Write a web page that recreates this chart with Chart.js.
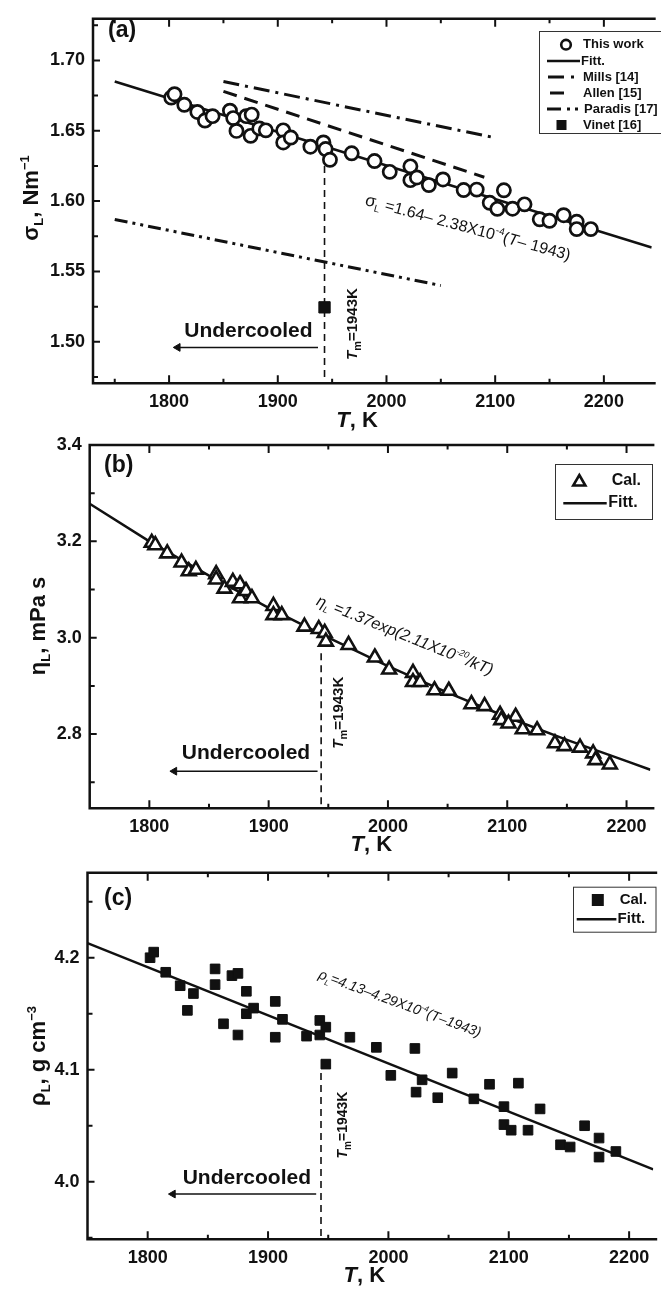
<!DOCTYPE html>
<html>
<head>
<meta charset="utf-8">
<script src="https://cdn.jsdelivr.net/npm/chart.js@4.4.0/dist/chart.umd.min.js"></script>
<style>
html, body { margin: 0; padding: 0; background: #fff; overflow: hidden; }
#wrap { position: relative; width: 661px; height: 1292px; }
canvas { position: absolute; left: 0; }
</style>
</head>
<body>
<div id="wrap">
<canvas id="chartA"></canvas>
<canvas id="chartB"></canvas>
<canvas id="chartC"></canvas>
</div>
<script>
'use strict';

const FONT = "'Liberation Sans', Arial, Helvetica, sans-serif";
const INK = '#111';
const tMelt = 1943;

// (a) surface tension
const tempA = [1802, 1805, 1814, 1826, 1833, 1840, 1856, 1859, 1862, 1871, 1876, 1875, 1883, 1889,
    1905, 1905, 1912, 1930, 1942, 1944, 1948, 1968, 1989, 2003, 2022, 2022, 2028, 2039, 2052,
    2071, 2083, 2095, 2102, 2108, 2116, 2127, 2141, 2150, 2163, 2175, 2175, 2188];
const sigmaA = [1.6736, 1.6760, 1.6685, 1.6634, 1.6573, 1.6604, 1.6643, 1.6590, 1.6499, 1.6604, 1.6615, 1.6464, 1.6517, 1.6503,
    1.6503, 1.6417, 1.6452, 1.6387, 1.6417, 1.6370, 1.6294, 1.6340, 1.6285, 1.6208, 1.6247, 1.6149, 1.6168, 1.6114, 1.6154,
    1.6079, 1.6082, 1.5988, 1.5945, 1.6077, 1.5946, 1.5977, 1.5871, 1.5860, 1.5900, 1.5853, 1.5801, 1.5801];
const fitTempA = [1750, 2244];
const fitSigmaA = [1.685, 1.567];
const millsTemp = [1850, 2100];
const millsSigma = [1.685, 1.645];
const allenTemp = [1850, 2090];
const allenSigma = [1.678, 1.617];
const paradisTemp = [1750, 2050];
const paradisSigma = [1.587, 1.540];
const vinetTemp = [1943];
const vinetSigma = [1.5245];
const tmSigma = [1.625, 1.4705];
const arrowTempA = [1937, 1808];
const arrowSigma = [1.496, 1.496];
const xTicksA = [1800, 1900, 2000, 2100, 2200];
const xMinorA = [1750, 1850, 1950, 2050, 2150];
const yTicksA = [1.50, 1.55, 1.60, 1.65, 1.70];
const yMinorA = [1.475, 1.525, 1.575, 1.625, 1.675, 1.725];

// (b) viscosity
const tempB = [1802, 1805, 1815, 1827, 1833, 1839, 1856, 1856, 1863, 1870, 1876, 1876, 1881, 1886,
    1904, 1904, 1911, 1930, 1942, 1947, 1948, 1967, 1989, 2001, 2021, 2021, 2027, 2039, 2051,
    2070, 2081, 2094, 2095, 2107, 2101, 2113, 2125, 2140, 2148, 2161, 2172, 2174, 2186];
const etaB = [3.197, 3.192, 3.175, 3.156, 3.138, 3.141, 3.132, 3.121, 3.102, 3.116, 3.111, 3.082, 3.097, 3.082,
    3.066, 3.047, 3.047, 3.023, 3.018, 3.010, 2.992, 2.985, 2.959, 2.934, 2.927, 2.908, 2.908, 2.891, 2.890,
    2.862, 2.858, 2.840, 2.829, 2.836, 2.822, 2.810, 2.808, 2.781, 2.775, 2.772, 2.760, 2.746, 2.737];
const fitTempB = [1750, 1800, 1850, 1900, 1950, 2000, 2050, 2100, 2150, 2200, 2220];
const fitEtaB = [3.278, 3.200, 3.129, 3.062, 3.000, 2.941, 2.886, 2.835, 2.788, 2.744, 2.726];
const tmEta = [2.968, 2.646];
const arrowTempB = [1941, 1821];
const arrowEta = [2.723, 2.723];
const xTicksBC = [1800, 1900, 2000, 2100, 2200];
const xMinorBC = [1850, 1950, 2050, 2150];
const yTicksB = [2.8, 3.0, 3.2, 3.4];
const yMinorB = [2.7, 2.9, 3.1, 3.3];

// (c) density
const tempC = [1802, 1805, 1815, 1827, 1833, 1838, 1856, 1856, 1863, 1870, 1875, 1875, 1882, 1882, 1888,
    1906, 1906, 1912, 1932, 1943, 1943, 1948, 1968, 1990, 2022, 1948, 2002, 2023, 2028, 2041, 2053,
    2071, 2084, 2096, 2096, 2102, 2108, 2116, 2126, 2143, 2151, 2163, 2175, 2175, 2189];
const rhoC = [4.200, 4.205, 4.187, 4.175, 4.153, 4.168, 4.190, 4.176, 4.141, 4.184, 4.186, 4.131, 4.170, 4.150, 4.155,
    4.161, 4.129, 4.145, 4.130, 4.144, 4.131, 4.138, 4.129, 4.120, 4.119, 4.105, 4.095, 4.080, 4.091, 4.075, 4.097,
    4.074, 4.087, 4.067, 4.051, 4.046, 4.088, 4.046, 4.065, 4.033, 4.031, 4.050, 4.039, 4.022, 4.027];
const fitTempC = [1750, 2220];
const fitRhoC = [4.213, 4.011];
const tmRho = [4.097, 3.9486];
const arrowTempC = [1940, 1821];
const arrowRho = [3.989, 3.989];
const yTicksC = [4.0, 4.1, 4.2];
const yMinorC = [3.95, 4.05, 4.15, 4.25];

function pts(xs, ys) {
    return xs.map((x, i) => ({x: x, y: ys[i]}));
}

function fontOf(q) {
    return (q.it ? 'italic ' : '') + (q.b ? 'bold ' : '') + q.s + 'px ' + FONT;
}

function drawRich(ctx, parts, x, y, align) {
    let w = 0;
    parts.forEach(q => { ctx.font = fontOf(q); q.w = ctx.measureText(q.t).width; w += q.w; });
    let cx = align === 'center' ? x - w / 2 : x;
    ctx.textAlign = 'left';
    ctx.textBaseline = 'alphabetic';
    parts.forEach(q => { ctx.font = fontOf(q); ctx.fillText(q.t, cx, y + (q.dy || 0)); cx += q.w; });
}

function rotated(ctx, x, y, deg, fn) {
    ctx.save();
    ctx.translate(x, y);
    ctx.rotate(deg * Math.PI / 180);
    fn();
    ctx.restore();
}

function lineDs(xs, ys, dash, width) {
    return {data: pts(xs, ys), showLine: true, borderColor: INK, borderWidth: width || 2.5,
        borderDash: dash || [], pointRadius: 0, fill: false};
}

function arrowDs(xs, ys) {
    return {data: pts(xs, ys), showLine: true, borderColor: INK, borderWidth: 1.6,
        pointRadius: [0, 4.5], pointStyle: 'triangle', pointRotation: -90,
        pointBackgroundColor: INK, pointBorderColor: INK, pointBorderWidth: 1};
}

function drawFrame(ctx, chart, p) {
    const a = chart.chartArea, xs = chart.scales.x, ys = chart.scales.y;
    ctx.save();
    ctx.strokeStyle = INK;
    ctx.lineWidth = 2.5;
    ctx.beginPath();
    ctx.moveTo(a.right + 4, a.top);
    ctx.lineTo(a.left, a.top);
    ctx.lineTo(a.left, a.bottom);
    ctx.lineTo(a.right + 4, a.bottom);
    ctx.stroke();
    ctx.lineWidth = 2;
    ctx.beginPath();
    const xt = (vals, len) => vals.forEach(v => {
        const px = xs.getPixelForValue(v);
        ctx.moveTo(px, a.bottom); ctx.lineTo(px, a.bottom - len);
        ctx.moveTo(px, a.top); ctx.lineTo(px, a.top + len);
    });
    const yt = (vals, len) => vals.forEach(v => {
        const py = ys.getPixelForValue(v);
        ctx.moveTo(a.left, py); ctx.lineTo(a.left + len, py);
    });
    xt(p.xMajor, 8); xt(p.xMinor, 4.5);
    yt(p.yMajor, 7); yt(p.yMinor, 5);
    ctx.stroke();
    ctx.restore();
}

function legendBox(ctx, x, y, w, h) {
    ctx.save();
    ctx.strokeStyle = '#333';
    ctx.lineWidth = 1;
    ctx.strokeRect(x + 0.5, y + 0.5, w, h);
    ctx.restore();
}

function hline(ctx, x1, x2, y, lw) {
    ctx.lineWidth = lw;
    ctx.beginPath(); ctx.moveTo(x1, y); ctx.lineTo(x2, y); ctx.stroke();
}

function legendText(ctx, t, x, y, size) {
    ctx.font = 'bold ' + size + 'px ' + FONT;
    ctx.textAlign = 'left';
    ctx.textBaseline = 'middle';
    ctx.fillText(t, x, y);
}

function buildPanel(id, p) {
    const cv = document.getElementById(id);
    cv.width = 661;
    cv.height = p.height;
    cv.style.top = p.top + 'px';
    const tickFont = {family: FONT, size: p.tickSize, weight: 'bold'};
    return new Chart(cv, {
        type: 'scatter',
        data: {datasets: p.datasets},
        options: {
            responsive: false,
            animation: false,
            events: [],
            layout: {padding: {top: p.areaTop - p.top, left: 0, right: 0, bottom: 0}},
            plugins: {legend: {display: false}, tooltip: {enabled: false}},
            scales: {
                x: {
                    type: 'linear', min: p.xMin, max: p.xMax,
                    afterBuildTicks: s => { s.ticks = p.xMajor.map(v => ({value: v})); },
                    afterFit: s => { s.height = p.top + p.height - p.areaBottom; },
                    grid: {display: false, drawTicks: false},
                    border: {display: false},
                    ticks: {font: tickFont, color: INK, padding: 8, maxRotation: 0, autoSkip: false,
                        callback: v => String(v)}
                },
                y: {
                    type: 'linear', min: p.yMin, max: p.yMax,
                    afterBuildTicks: s => { s.ticks = p.yMajor.map(v => ({value: v})); },
                    afterFit: s => { s.width = p.areaLeft; },
                    grid: {display: false, drawTicks: false},
                    border: {display: false},
                    ticks: {font: tickFont, color: INK, padding: 8, autoSkip: false,
                        callback: v => v.toFixed(p.yDec)}
                }
            }
        },
        plugins: [{
            id: 'deco',
            afterDatasetsDraw(chart) {
                const ctx = chart.ctx;
                const X = v => chart.scales.x.getPixelForValue(v);
                const Y = v => chart.scales.y.getPixelForValue(v);
                const pg = v => v - p.top;
                drawFrame(ctx, chart, p);
                ctx.save();
                ctx.fillStyle = INK;
                ctx.strokeStyle = INK;
                // panel letter
                drawRich(ctx, [{t: p.letter, s: 23, b: true}], p.letterX, pg(p.letterBase), 'left');
                // y title
                rotated(ctx, p.yTitleX, pg(p.yTitleY), -90, () => drawRich(ctx, p.yTitle, 0, 8, 'center'));
                // x title
                drawRich(ctx, [{t: 'T', s: 22, b: true, it: true}, {t: ', K', s: 22, b: true}],
                    X(p.xTitleT), pg(p.xTitleBase), 'center');
                // melting point label
                rotated(ctx, X(p.tmAt[0]), Y(p.tmAt[1]), -90, () => drawRich(ctx, [
                    {t: 'T', s: p.tmSize, b: true, it: true}, {t: 'm', s: p.tmSize - 4, b: true, dy: 4},
                    {t: '=1943K', s: p.tmSize, b: true}], 0, p.tmSize * 0.36, 'center'));
                // undercooled
                drawRich(ctx, [{t: 'Undercooled', s: 21, b: true}], X(p.ucAt[0]), Y(p.ucAt[1]) + 7.5, 'center');
                // fit equation
                rotated(ctx, X(p.eqAt[0]), Y(p.eqAt[1]), p.eqAngle, () => drawRich(ctx, p.eq, 0, 5, 'left'));
                // legend
                p.legend(ctx, pg);
                ctx.restore();
            }
        }]
    });
}

// ---------- panel (a) ----------
buildPanel('chartA', {
    top: 0, height: 436, areaTop: 12.7, areaBottom: 383.3, areaLeft: 93,
    xMin: 1730, xMax: 2244, yMin: 1.4705, yMax: 1.7296, yDec: 2, tickSize: 18,
    xMajor: xTicksA, xMinor: xMinorA, yMajor: yTicksA, yMinor: yMinorA,
    letter: '(a)', letterX: 108, letterBase: 37,
    yTitleX: 30, yTitleY: 198,
    yTitle: [{t: 'σ', s: 22, b: true}, {t: 'L', s: 13, b: true, dy: 5}, {t: ', Nm', s: 22, b: true},
        {t: '−1', s: 13, b: true, dy: -9}],
    xTitleT: 1973, xTitleBase: 427,
    tmAt: [1968, 1.5126], tmSize: 15,
    ucAt: [1873, 1.5089],
    eqAt: [1980.7, 1.6009], eqAngle: 15.2,
    eq: [{t: 'σ', s: 17}, {t: 'L', s: 10, dy: 4}, {t: ' =1.64– 2.38X10', s: 16}, {t: '-4', s: 10, dy: -7},
        {t: '(', s: 16}, {t: 'T', s: 16, it: true}, {t: '– 1943)', s: 16}],
    datasets: [
        {data: pts(tempA, sigmaA), pointStyle: 'circle', pointRadius: 6.6, pointBorderWidth: 2.7,
            pointBorderColor: INK, pointBackgroundColor: '#fff'},
        {data: pts(vinetTemp, vinetSigma), pointStyle: 'rect', pointRadius: 8, pointBorderWidth: 1,
            pointBorderColor: INK, pointBackgroundColor: INK},
        lineDs(fitTempA, fitSigmaA),
        lineDs(millsTemp, millsSigma, [16, 6, 3, 6], 3),
        lineDs(allenTemp, allenSigma, [14, 8], 3),
        lineDs(paradisTemp, paradisSigma, [13, 5, 3, 5, 3, 5], 3),
        lineDs([tMelt, tMelt], tmSigma, [7, 5], 1.6),
        arrowDs(arrowTempA, arrowSigma)
    ],
    legend: (ctx, pg) => {
        legendBox(ctx, 539, 31, 130, 102);
        ctx.lineWidth = 2.6;
        ctx.fillStyle = '#fff';
        ctx.beginPath(); ctx.arc(566, 44.7, 4.8, 0, Math.PI * 2); ctx.fill(); ctx.stroke();
        ctx.fillStyle = INK;
        hline(ctx, 547, 580, 61, 2.5);
        hline(ctx, 548, 564, 77, 3); ctx.fillRect(571, 75.5, 3, 3);
        hline(ctx, 550, 564, 93, 3);
        hline(ctx, 547, 561, 109, 3); ctx.fillRect(567, 107.5, 3, 3); ctx.fillRect(575, 107.5, 3, 3);
        ctx.fillRect(556.5, 120, 10, 10);
        legendText(ctx, 'This work', 583, 44.7, 13);
        legendText(ctx, 'Fitt.', 581, 61, 13);
        legendText(ctx, 'Mills [14]', 583, 77, 13);
        legendText(ctx, 'Allen [15]', 583, 93, 13);
        legendText(ctx, 'Paradis [17]', 584, 109, 13);
        legendText(ctx, 'Vinet [16]', 583, 125, 13);
    }
});

// ---------- panel (b) ----------
buildPanel('chartB', {
    top: 425, height: 436, areaTop: 445, areaBottom: 808.3, areaLeft: 89.7,
    xMin: 1750, xMax: 2220, yMin: 2.646, yMax: 3.4, yDec: 1, tickSize: 18,
    xMajor: xTicksBC, xMinor: xMinorBC, yMajor: yTicksB, yMinor: yMinorB,
    letter: '(b)', letterX: 104, letterBase: 472,
    yTitleX: 37, yTitleY: 626,
    yTitle: [{t: 'η', s: 22, b: true}, {t: 'L', s: 13, b: true, dy: 5}, {t: ', mPa s', s: 22, b: true}],
    xTitleT: 1986, xTitleBase: 851,
    tmAt: [1958, 2.8444], tmSize: 15,
    ucAt: [1881, 2.763],
    eqAt: [1940.8, 3.078], eqAngle: 21.9,
    eq: [{t: 'η', s: 16, it: true}, {t: 'L', s: 9, it: true, dy: 4}, {t: ' =1.37exp(2.11X10', s: 16, it: true},
        {t: '-20', s: 9, it: true, dy: -7}, {t: '/kT)', s: 16, it: true}],
    datasets: [
        {data: pts(tempB, etaB), pointStyle: 'triangle', pointRadius: 8, pointBorderWidth: 2.6,
            pointBorderColor: INK, pointBackgroundColor: '#fff'},
        lineDs(fitTempB, fitEtaB),
        lineDs([tMelt + 1, tMelt + 1], tmEta, [7, 5], 1.6),
        arrowDs(arrowTempB, arrowEta)
    ],
    legend: (ctx, pg) => {
        legendBox(ctx, 555, pg(464), 97, 55);
        ctx.lineWidth = 2.6;
        ctx.fillStyle = '#fff';
        const cy = pg(482), r = 7;
        ctx.beginPath();
        ctx.moveTo(579.3, cy - r);
        ctx.lineTo(579.3 + r * 0.866, cy + r * 0.5);
        ctx.lineTo(579.3 - r * 0.866, cy + r * 0.5);
        ctx.closePath(); ctx.fill(); ctx.stroke();
        ctx.fillStyle = INK;
        hline(ctx, 563.3, 606.7, pg(503.3), 2.5);
        legendText(ctx, 'Cal.', 611.7, pg(481), 16);
        legendText(ctx, 'Fitt.', 608.3, pg(503), 16);
    }
});

// ---------- panel (c) ----------
buildPanel('chartC', {
    top: 850, height: 442, areaTop: 872.7, areaBottom: 1239.3, areaLeft: 87.5,
    xMin: 1750, xMax: 2220, yMin: 3.9486, yMax: 4.2759, yDec: 1, tickSize: 18,
    xMajor: xTicksBC, xMinor: xMinorBC, yMajor: yTicksC, yMinor: yMinorC,
    letter: '(c)', letterX: 104, letterBase: 905,
    yTitleX: 37, yTitleY: 1056,
    yTitle: [{t: 'ρ', s: 22, b: true}, {t: 'L', s: 13, b: true, dy: 5}, {t: ', g cm', s: 22, b: true},
        {t: '−3', s: 13, b: true, dy: -9}],
    xTitleT: 1980, xTitleBase: 1282,
    tmAt: [1961, 4.0506], tmSize: 14,
    ucAt: [1882.4, 4.0045],
    eqAt: [1942.7, 4.186], eqAngle: 20.1,
    eq: [{t: 'ρ', s: 14, it: true}, {t: 'L', s: 8, it: true, dy: 4}, {t: '=4.13–4.29X10', s: 14, it: true},
        {t: '-4', s: 8, it: true, dy: -6}, {t: '(T–1943)', s: 14, it: true}],
    datasets: [
        {data: pts(tempC, rhoC), pointStyle: 'rect', pointRadius: 6.8, pointBorderWidth: 1,
            pointBorderColor: INK, pointBackgroundColor: INK},
        lineDs(fitTempC, fitRhoC),
        lineDs([tMelt + 1, tMelt + 1], tmRho, [7, 5], 1.6),
        arrowDs(arrowTempC, arrowRho)
    ],
    legend: (ctx, pg) => {
        legendBox(ctx, 573, pg(886.7), 82.5, 45);
        ctx.fillStyle = INK;
        ctx.fillRect(591.8, pg(894), 12, 12);
        hline(ctx, 576.7, 616.4, pg(919.3), 2.5);
        legendText(ctx, 'Cal.', 619.7, pg(900), 15);
        legendText(ctx, 'Fitt.', 617.6, pg(919), 15);
    }
});
</script>
</body>
</html>
